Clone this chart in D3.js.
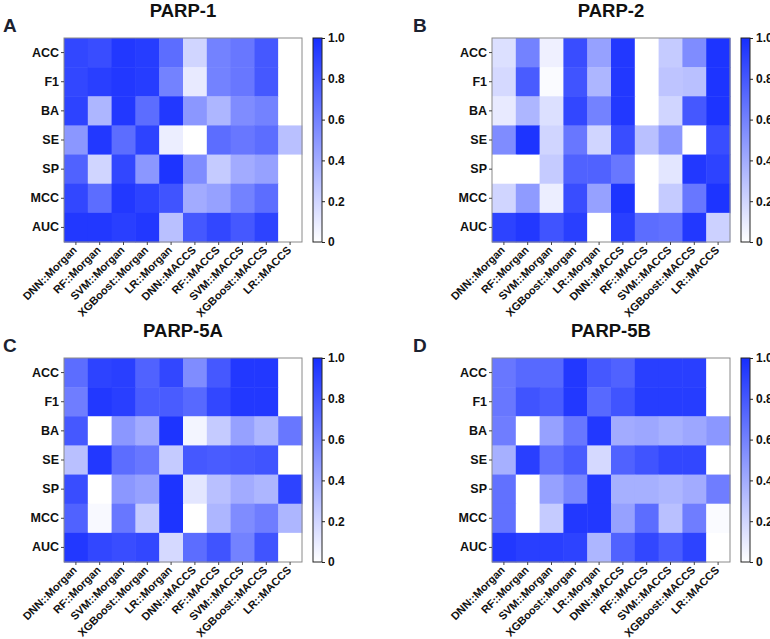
<!DOCTYPE html>
<html><head><meta charset="utf-8">
<script src="https://cdn.jsdelivr.net/npm/d3@7"></script>
<style>
html,body{margin:0;padding:0;background:#fff;}
svg{display:block;font-family:"Liberation Sans",Arial,Helvetica,sans-serif;}
</style></head>
<body><svg id="c" width="770" height="639"></svg>
<script>
const models = ["DNN::Morgan","RF::Morgan","SVM::Morgan","XGBoost::Morgan","LR::Morgan","DNN::MACCS","RF::MACCS","SVM::MACCS","XGBoost::MACCS","LR::MACCS"];
const metrics = ["ACC","F1","BA","SE","SP","MCC","AUC"];
const colorTicks = [0,0.2,0.4,0.6,0.8,1.0];

const parp1 = [
 [0.88,0.85,0.95,0.93,0.70,0.20,0.60,0.65,0.80,0],
 [0.88,0.92,0.95,0.93,0.60,0.10,0.60,0.65,0.80,0],
 [0.90,0.35,0.95,0.70,0.95,0.50,0.35,0.55,0.60,0],
 [0.50,0.95,0.70,0.90,0.08,0.00,0.70,0.65,0.70,0.30],
 [0.75,0.20,0.88,0.50,0.97,0.55,0.25,0.40,0.45,0],
 [0.88,0.70,0.95,0.90,0.82,0.40,0.45,0.60,0.70,0],
 [0.95,0.95,0.92,0.95,0.30,0.80,0.88,0.80,0.90,0]
];
const parp2 = [
 [0.15,0.60,0.07,0.85,0.45,0.95,0,0.25,0.55,0.97],
 [0.18,0.78,0.02,0.82,0.35,0.95,0,0.28,0.30,0.97],
 [0.10,0.35,0.15,0.88,0.60,0.95,0,0.20,0.80,0.97],
 [0.55,0.97,0.20,0.65,0.20,0.85,0.30,0.50,0,0.85],
 [0,0,0.25,0.75,0.75,0.65,0,0.12,0.95,0.90],
 [0.20,0.48,0.08,0.85,0.45,0.97,0,0.25,0.65,0.97],
 [0.90,0.95,0.82,0.92,0,0.92,0.70,0.68,0.95,0.22]
];
const parp5a = [
 [0.70,0.90,0.92,0.75,0.88,0.55,0.80,0.95,0.95,0],
 [0.62,0.95,0.92,0.78,0.78,0.72,0.88,0.95,0.95,0],
 [0.80,0,0.50,0.40,0.97,0.05,0.25,0.45,0.35,0.65],
 [0.30,0.95,0.70,0.65,0.25,0.80,0.78,0.80,0.82,0],
 [0.85,0,0.50,0.45,0.97,0.12,0.30,0.40,0.35,0.90],
 [0.75,0.03,0.65,0.25,0.97,0,0.35,0.55,0.62,0.35],
 [0.95,0.88,0.85,0.88,0.18,0.70,0.82,0.60,0.82,0]
];
const parp5b = [
 [0.65,0.72,0.72,0.95,0.80,0.75,0.92,0.92,0.92,0],
 [0.65,0.82,0.78,0.95,0.72,0.82,0.93,0.93,0.93,0],
 [0.62,0,0.45,0.65,0.95,0.40,0.42,0.38,0.42,0.50],
 [0.38,0.92,0.68,0.78,0.18,0.75,0.82,0.88,0.88,0],
 [0.68,0,0.45,0.58,0.95,0.38,0.38,0.35,0.40,0.62],
 [0.68,0,0.25,0.95,0.95,0.45,0.70,0.30,0.62,0.02],
 [0.95,0.92,0.92,0.90,0.35,0.75,0.88,0.78,0.90,0]
];
const panelTitles = ["PARP-1","PARP-2","PARP-5A","PARP-5B"];
const panelLetters = ["A","B","C","D"];
const panelData = [parp1, parp2, parp5a, parp5b];

const svg = d3.select("#c");
const BLUE = "rgb(22,46,255)";
const color = d3.scaleLinear().domain([0,1]).range(["#ffffff", BLUE]).clamp(true);

const defs = svg.append("defs");
const grad = defs.append("linearGradient").attr("id","cb").attr("x1",0).attr("y1",1).attr("x2",0).attr("y2",0);
grad.append("stop").attr("offset","0%").attr("stop-color","#ffffff");
grad.append("stop").attr("offset","100%").attr("stop-color",BLUE);

const W = 238, H = 204;
const origins = [[64,38,3,32],[492,38,413,32],[64,358,3,352],[492,358,413,352]];

panelData.forEach((data, pi) => {
  const [x0, y0, lx, ly] = origins[pi];
  const g = svg.append("g").attr("transform", `translate(${x0},${y0})`);
  const x = d3.scaleBand().domain(models).range([0, W]);
  const y = d3.scaleBand().domain(metrics).range([0, H]);

  const cells = [];
  data.forEach((row, ri) => row.forEach((v, ci) => cells.push({m: metrics[ri], c: models[ci], v})));
  g.selectAll("rect.cell").data(cells).join("rect")
    .attr("class","cell")
    .attr("x", d => x(d.c)).attr("y", d => y(d.m))
    .attr("width", x.bandwidth() + 0.5).attr("height", y.bandwidth() + 0.5)
    .attr("fill", d => color(d.v));
  g.append("rect").attr("x",0).attr("y",0).attr("width",W).attr("height",H)
    .attr("fill","none").attr("stroke","#8a8a8a").attr("stroke-width",1);

  const ya = g.append("g").call(d3.axisLeft(y).tickSize(3).tickPadding(2));
  ya.select(".domain").remove();
  ya.selectAll("text").attr("font-size", 12.5).attr("font-weight","bold").attr("fill","#111");
  ya.selectAll("line").attr("stroke","#444");

  const xa = g.append("g").attr("transform", `translate(0,${H})`).call(d3.axisBottom(x).tickSize(3).tickPadding(2));
  xa.select(".domain").remove();
  xa.selectAll("line").attr("stroke","#444");
  xa.selectAll("text").attr("font-size", 11).attr("font-weight","bold").attr("fill","#111")
    .attr("text-anchor","end").attr("dy","0.35em")
    .attr("transform","translate(-1,6) rotate(-45)").attr("x",0).attr("y",0);

  // colorbar
  const cbx = W + 11, cbw = 9;
  const cs = d3.scaleLinear().domain([0,1]).range([H, 0]);
  const cb = g.append("g").attr("transform", `translate(${cbx},0)`);
  cb.append("rect").attr("width", cbw).attr("height", H).attr("fill","url(#cb)")
    .attr("stroke","#222").attr("stroke-width",1);
  const ca = cb.append("g").attr("transform", `translate(${cbw},0)`)
    .call(d3.axisRight(cs).tickValues(colorTicks).tickSize(3).tickPadding(3).tickFormat(d => d === 0 ? "0" : d3.format(".1f")(d)));
  ca.select(".domain").remove();
  ca.selectAll("line").attr("stroke","#222");
  ca.selectAll("text").attr("font-size", 12).attr("font-weight","bold").attr("fill","#111");

  svg.append("text").attr("x", x0 + W/2).attr("y", y0 - 21.5).attr("text-anchor","middle")
    .attr("font-size", 18.5).attr("font-weight","bold").attr("fill","#111").text(panelTitles[pi]);
  svg.append("text").attr("x", lx).attr("y", ly).attr("font-size", 19).attr("font-weight","bold")
    .attr("fill","#1b2230").text(panelLetters[pi]);
});
</script></body></html>
